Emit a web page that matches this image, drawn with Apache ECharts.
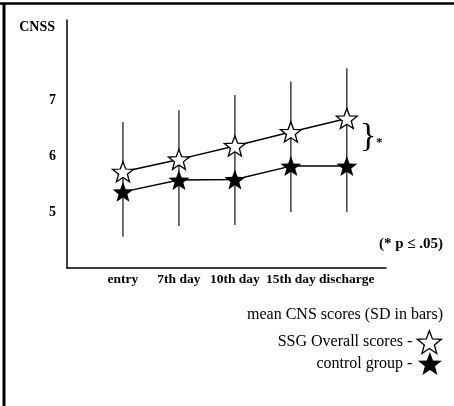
<!DOCTYPE html>
<html>
<head>
<meta charset="utf-8">
<script src="https://cdn.jsdelivr.net/npm/echarts@6/dist/echarts.min.js"></script>
<style>
html,body{margin:0;padding:0;background:#fff;}
#chart{width:454px;height:406px;}
</style>
</head>
<body>
<div id="chart"></div>
<script>
// ---- data ----
const categories = ['entry', '7th day', '10th day', '15th day', 'discharge'];
const ssgMean  = [5.72, 5.94, 6.18, 6.43, 6.67];
const ssgSD    = [0.89, 0.88, 0.91, 0.90, 0.90];
const ctrlMean = [5.36, 5.57, 5.58, 5.82, 5.82];
const ctrlSD   = [0.80, 0.82, 0.81, 0.82, 0.82];
const yTickLabels = [5, 6, 7];
const ssgName = 'SSG Overall scores -';
const ctrlName = 'control group -';

const SERIF = "'Liberation Serif','DejaVu Serif',serif";
const STAR = 'path://M0,-50 L12.34,-16.99 L47.55,-15.45 L19.97,6.49 L29.39,40.45 L0,21 L-29.39,40.45 L-19.97,6.49 L-47.55,-15.45 L-12.34,-16.99 Z';

const chart = echarts.init(document.getElementById('chart'), null, {renderer: 'canvas'});

const errData = categories.map((c, i) => [i, ssgMean[i] + ssgSD[i], ctrlMean[i] - ctrlSD[i]]);

const option = {
  animation: false,
  backgroundColor: '#fff',
  title: {
    text: 'mean CNS scores (SD in bars)',
    right: 11, top: 307,
    padding: 0,
    textStyle: {fontFamily: SERIF, fontSize: 16, fontWeight: 'normal', color: '#000'}
  },
  legend: [
    {
      data: [{name: ssgName, icon: STAR, itemStyle: {color: '#fff', borderColor: '#000', borderWidth: 1.3}}],
      right: 12, top: 330, padding: 0, align: 'right',
      itemWidth: 24, itemHeight: 24, selectedMode: false,
      textStyle: {fontFamily: SERIF, fontSize: 16, color: '#000'}
    },
    {
      data: [{name: ctrlName, icon: STAR, itemStyle: {color: '#000', borderColor: '#000', borderWidth: 0}}],
      right: 12, top: 352, padding: 0, align: 'right',
      itemWidth: 25, itemHeight: 23, selectedMode: false,
      textStyle: {fontFamily: SERIF, fontSize: 16, color: '#000'}
    }
  ],
  grid: {left: 67, right: 68, top: 20, bottom: 138, containLabel: false},
  xAxis: {
    type: 'value', min: -1, max: 4.7, interval: 1,
    axisLine: {show: true, onZero: false, lineStyle: {color: '#000', width: 1.5}},
    axisTick: {show: false},
    splitLine: {show: false},
    axisLabel: {
      margin: 5,
      fontFamily: SERIF, fontSize: 13.5, fontWeight: 'bold', color: '#000',
      formatter: v => (Number.isInteger(v) && v >= 0 && v < categories.length) ? categories[v] : ''
    }
  },
  yAxis: {
    type: 'value', min: 4, max: 8.43, interval: 1,
    name: 'CNSS', nameLocation: 'end', nameGap: -7,
    nameTextStyle: {fontFamily: SERIF, fontSize: 14, fontWeight: 'bold', color: '#000', align: 'right', verticalAlign: 'middle', padding: [0, 12, 0, 0]},
    axisLine: {show: true, onZero: false, lineStyle: {color: '#000', width: 1.5}},
    axisTick: {show: false},
    splitLine: {show: false},
    axisLabel: {
      margin: 11,
      fontFamily: SERIF, fontSize: 14, fontWeight: 'bold', color: '#000',
      formatter: v => yTickLabels.indexOf(v) >= 0 ? String(v) : ''
    }
  },
  series: [
    {
      type: 'custom', name: 'SD', z: 1, silent: true,
      data: errData,
      renderItem: function (params, api) {
        const x = api.value(0);
        const top = api.coord([x, api.value(1)]);
        const bot = api.coord([x, api.value(2)]);
        return {type: 'line', shape: {x1: top[0], y1: top[1], x2: bot[0], y2: bot[1]},
                style: {stroke: '#111', lineWidth: 1.2}};
      }
    },
    {
      type: 'line', name: ssgName, z: 3,
      data: ssgMean.map((v, i) => [i, v]),
      symbol: STAR, symbolSize: [21, 20],
      lineStyle: {color: '#000', width: 1.5},
      itemStyle: {color: '#fff', borderColor: '#000', borderWidth: 1.3}
    },
    {
      type: 'line', name: ctrlName, z: 3,
      data: ctrlMean.map((v, i) => [i, v]),
      symbol: STAR, symbolSize: [21, 20],
      lineStyle: {color: '#000', width: 1.5},
      itemStyle: {color: '#000', borderColor: '#000', borderWidth: 0}
    }
  ],
  graphic: [
    {type: 'line', shape: {x1: 0, y1: 3.5, x2: 454, y2: 3.5}, style: {stroke: '#000', lineWidth: 2.5}},
    {type: 'line', shape: {x1: 4, y1: 3, x2: 4, y2: 406}, style: {stroke: '#000', lineWidth: 3}},
    {type: 'text', left: 360, top: 120, style: {text: '}', font: '34px ' + SERIF, fill: '#000'}},
    {type: 'text', left: 376, top: 136, style: {text: '*', font: 'bold 13px ' + SERIF, fill: '#000'}},
    {type: 'text', right: 11, top: 237, style: {text: '(* p \u2264 .05)', font: 'bold 15px ' + SERIF, fill: '#000'}}
  ]
};
chart.setOption(option);
</script>
</body>
</html>
